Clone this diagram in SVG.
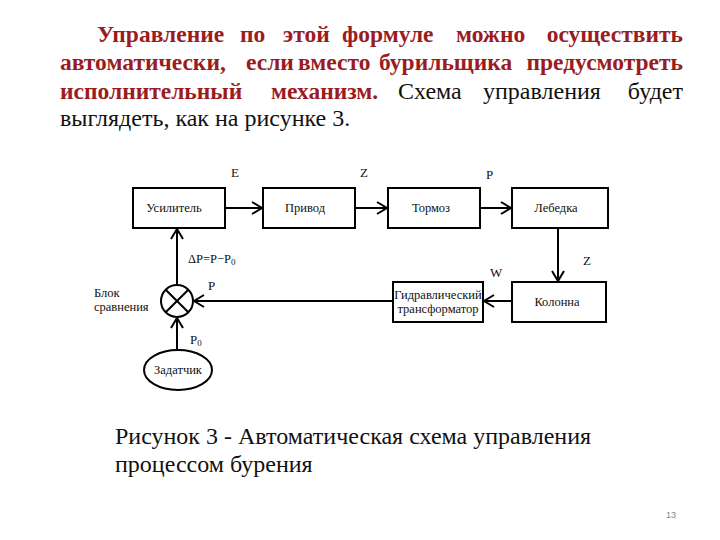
<svg xmlns="http://www.w3.org/2000/svg" width="720" height="540" viewBox="0 0 720 540" font-family="Liberation Serif, DejaVu Serif, serif">
<style>
.h{font-size:23.5px;font-weight:bold;fill:#9a1c1f}
.t{font-size:24px;fill:#111}
.c{font-size:24px;fill:#111}
.n{font-size:12.5px;fill:#111}
.l{font-size:13px;fill:#111}
.box{fill:#fff;stroke:#000;stroke-width:2}
.ln{fill:none;stroke:#000;stroke-width:2}
</style>
<defs>
<marker id="a" markerUnits="userSpaceOnUse" markerWidth="14" markerHeight="14" refX="11" refY="7" orient="auto">
<path d="M1,1 L11,7 L1,13" fill="none" stroke="#000" stroke-width="2"/>
</marker>
</defs>
<rect width="720" height="540" fill="#fff"/>
<g id="header">
<text class="h" y="42"><tspan x="97">Управление</tspan><tspan x="240">по</tspan><tspan x="283">этой</tspan><tspan x="342">формуле</tspan><tspan x="456">можно</tspan></text>
<text class="h" x="683" y="42" text-anchor="end">осуществить</text>
<text class="h" y="70"><tspan x="60">автоматически,</tspan><tspan x="246">если</tspan><tspan x="298">вместо</tspan><tspan x="379">бурильщика</tspan></text>
<text class="h" x="683" y="70" text-anchor="end">предусмотреть</text>
<text class="h" x="60" y="99">исполнительный</text>
<text class="h" x="271" y="99">механизм.</text>
<text class="t" y="99"><tspan x="398">Схема</tspan><tspan x="483">управления</tspan></text>
<text class="t" x="683" y="99" text-anchor="end">будет</text>
<text class="t" x="60" y="126">выглядеть, как на рисунке 3.</text>
</g>
<g id="connectors">
<line class="ln" x1="225" y1="208" x2="262" y2="208" marker-end="url(#a)"/>
<line class="ln" x1="355" y1="208" x2="387" y2="208" marker-end="url(#a)"/>
<line class="ln" x1="480" y1="208" x2="511" y2="208" marker-end="url(#a)"/>
<line class="ln" x1="558" y1="228" x2="558" y2="281" marker-end="url(#a)"/>
<line class="ln" x1="512" y1="301" x2="484" y2="301" marker-end="url(#a)"/>
<line class="ln" x1="393" y1="301" x2="194" y2="301" marker-end="url(#a)"/>
<line class="ln" x1="177" y1="285" x2="177" y2="229" marker-end="url(#a)"/>
<line class="ln" x1="177" y1="350" x2="177" y2="318" marker-end="url(#a)"/>
</g>
<g id="usilitel"><rect class="box" x="133" y="188" width="92" height="40"/><text class="n" x="174" y="212" text-anchor="middle">Усилитель</text></g>
<g id="privod"><rect class="box" x="263" y="188" width="92" height="40"/><text class="n" x="305" y="212" text-anchor="middle">Привод</text></g>
<g id="tormoz"><rect class="box" x="388" y="188" width="92" height="40"/><text class="n" x="431" y="212" text-anchor="middle">Тормоз</text></g>
<g id="lebedka"><rect class="box" x="512" y="188" width="96" height="40"/><text class="n" x="556" y="212" text-anchor="middle">Лебедка</text></g>
<g id="kolonna"><rect class="box" x="512" y="282" width="94" height="40"/><text class="n" x="557" y="306" text-anchor="middle">Колонна</text></g>
<g id="gidro"><rect class="box" x="393" y="282" width="90" height="40"/><text class="n" x="438" y="299" text-anchor="middle">Гидравлический</text><text class="n" x="438" y="313" text-anchor="middle">трансформатор</text></g>
<g id="blok"><circle class="ln" cx="177" cy="301" r="16"/><line class="ln" x1="165.7" y1="289.7" x2="188.3" y2="312.3"/><line class="ln" x1="188.3" y1="289.7" x2="165.7" y2="312.3"/><text class="n" x="94" y="297">Блок</text><text class="n" x="94" y="311">сравнения</text></g>
<g id="zadatchik"><ellipse class="ln" cx="178" cy="370" rx="34" ry="20"/><text class="n" x="178" y="374" text-anchor="middle">Задатчик</text></g>
<g id="labels">
<text class="l" x="231" y="177">E</text>
<text class="l" x="360" y="177">Z</text>
<text class="l" x="486" y="179">P</text>
<text class="l" x="583" y="265">Z</text>
<text class="l" x="490" y="277">W</text>
<text class="n" x="188" y="263">ΔP=P−P<tspan font-size="9" dy="2">0</tspan></text>
<text class="l" x="208" y="290">P</text>
<text class="l" x="190" y="344">P<tspan font-size="9" dy="2">0</tspan></text>
</g>
<g id="caption">
<text class="c" x="115" y="444">Рисунок 3 - Автоматическая схема управления</text>
<text class="c" x="115" y="472">процессом бурения</text>
</g>
<text x="671" y="518" font-family="Liberation Sans, Arial, sans-serif" font-size="9" fill="#888" text-anchor="middle">13</text>
</svg>
